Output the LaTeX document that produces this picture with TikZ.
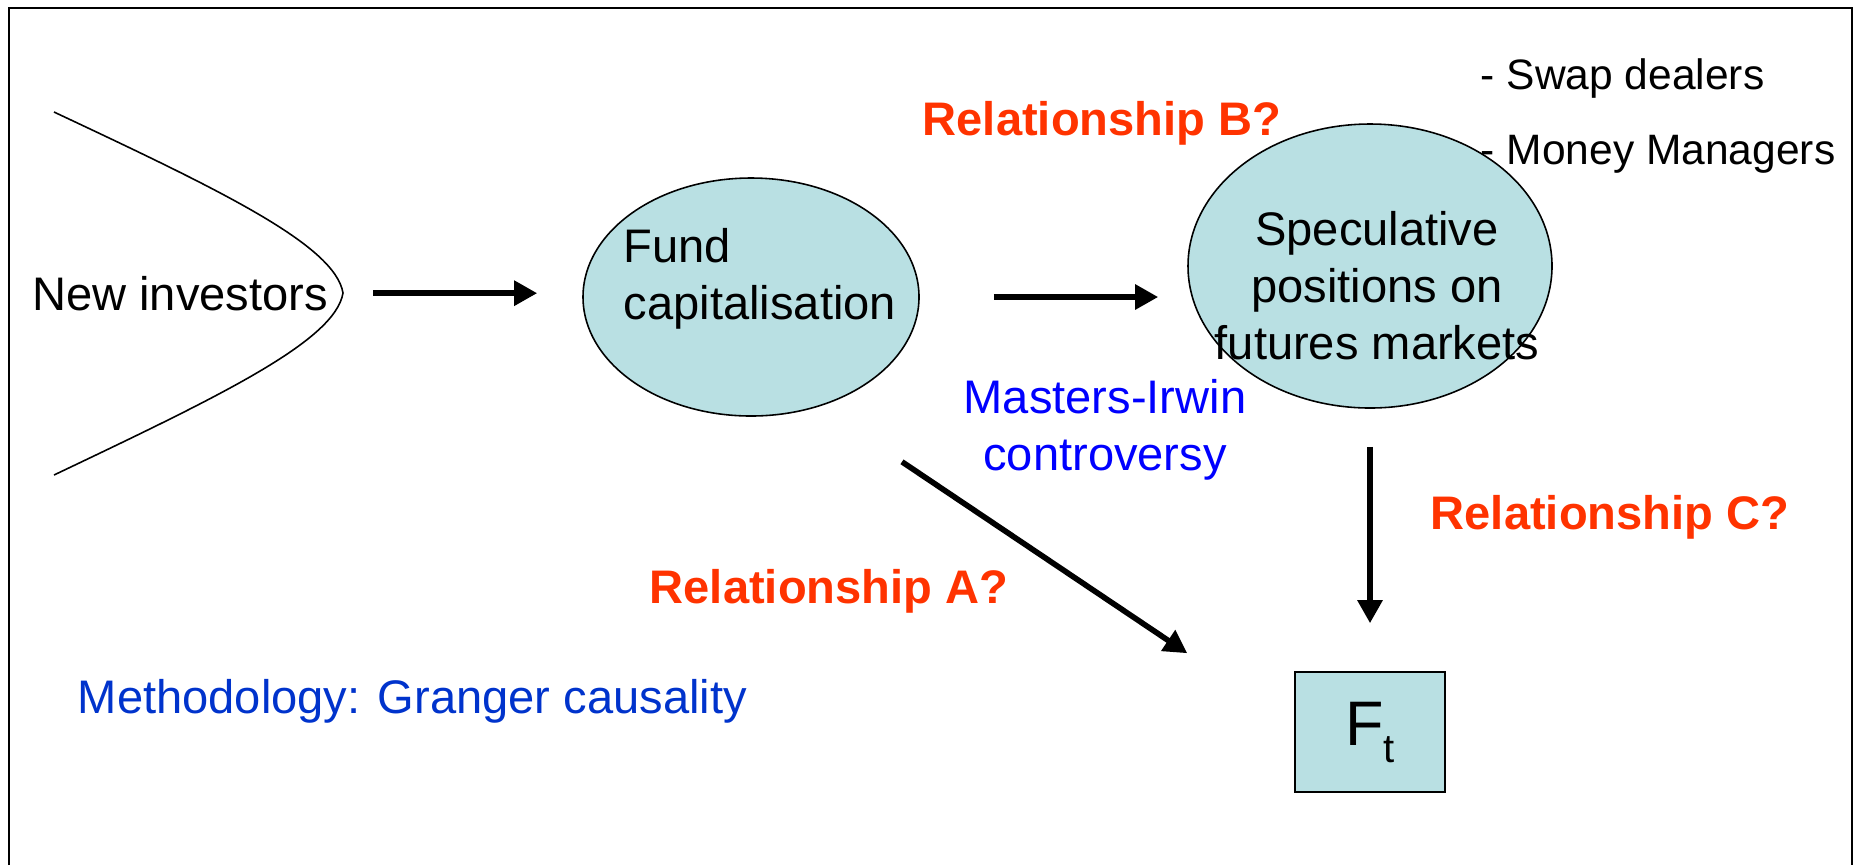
\documentclass[tikz,border=0pt]{standalone}
\usepackage{fontspec}
\setmainfont{Liberation Sans}
\usetikzlibrary{shapes.geometric, arrows.meta, positioning, calc}
\definecolor{bubblefill}{RGB}{185,224,227}
\definecolor{relred}{RGB}{255,51,0}
\definecolor{irwinblue}{RGB}{0,0,255}
\definecolor{methblue}{RGB}{0,51,204}

\begin{document}
\begin{tikzpicture}[line width=0.45pt, >={Triangle[length=2.3mm, width=2.4mm]},
    bubble/.style={draw, ellipse, fill=bubblefill, inner sep=0pt},
    flow/.style={->, line width=1.6pt},
    txt/.style={inner sep=0pt, font=\fontsize{13.4}{16.2}\selectfont},
    rel/.style={inner sep=0pt, font=\fontsize{13.4}{16.2}\selectfont\bfseries, text=relred}]
    \useasboundingbox (0,0) rectangle (18.54,-8.65);
    % frame
    \draw[line width=0.6pt] (0.09,-8.65) -- (0.09,-0.08) -- (18.52,-0.08) -- (18.52,-8.65);
    % investors
    \draw (0.54,-1.12) .. controls (2.20,-1.90) and (3.35,-2.45) .. (3.43,-2.93)
          .. controls (3.35,-3.41) and (2.20,-3.96) .. (0.54,-4.75);
    \node[txt, anchor=base] (inv) at (1.80,-3.10) {New investors};
    % bubbles
    \node[bubble, minimum width=3.36cm, minimum height=2.38cm] (fund) at (7.51,-2.97) {};
    \node[txt, align=left, anchor=north west] (fundtxt) at (6.23,-2.28) {Fund\\capitalisation};
    \node[bubble, minimum width=3.64cm, minimum height=2.84cm] (spec) at (13.70,-2.66) {};
    \node[txt, align=center, anchor=north] (spectxt) at (13.77,-2.11) {Speculative\\positions on\\futures markets};
    \node[draw, fill=bubblefill, minimum width=1.50cm, minimum height=1.20cm, inner sep=0pt] (ft) at (13.70,-7.32)
        {\fontsize{17.9}{20}\selectfont F\raisebox{-0.17cm}{\fontsize{11.4}{13}\selectfont t}};
    % arrows
    \draw[flow, shorten <=0.445cm, shorten >=0.45cm] (inv.east) -- (inv.east -| fund.west);
    \draw[flow, shorten <=0.74cm, shorten >=0.29cm] (fund.east) -- (fund.east -| spec.west);
    \draw[flow, shorten <=0.38cm, shorten >=0.48cm] (spec.south) -- (ft.north);
    \draw[flow] ([shift={(1.51,-0.45)}]fund.south) -- ([shift={(-1.07,0.18)}]ft.north west);
    % labels
    \node[rel, anchor=base] (relB) at (11.02,-1.35) {Relationship B?};
    \node[rel, anchor=base] (relC) at (16.10,-5.29) {Relationship C?};
    \node[rel, anchor=base] (relA) at (8.29,-6.03) {Relationship A?};
    \node[txt, align=center, anchor=north, text=irwinblue] (irwin) at (11.05,-3.79) {Masters-Irwin\\controversy};
    \node[txt, anchor=base west, text=methblue] (meth) at (0.77,-7.13) {Methodology: Granger causality};
    \node[txt, anchor=base west, font=\fontsize{12.1}{14.5}\selectfont] (swap) at (14.80,-0.89) {- Swap dealers};
    \node[txt, anchor=base west, font=\fontsize{12.1}{14.5}\selectfont] (money) at (14.80,-1.64) {- Money Managers};
\end{tikzpicture}
\end{document}
